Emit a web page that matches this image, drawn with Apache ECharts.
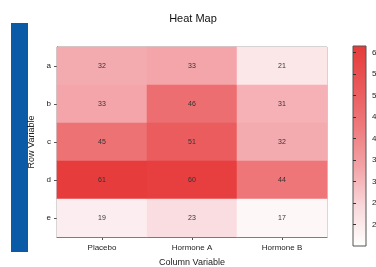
<!DOCTYPE html>
<html>
<head>
<meta charset="utf-8">
<script src="https://cdn.jsdelivr.net/npm/echarts@6/dist/echarts.min.js"></script>
<style>
html,body{margin:0;padding:0;background:#fff;}
#chart{width:376px;height:267px;}
</style>
</head>
<body>
<div id="chart"></div>
<script>
// ---- data ----
var columns = ['Placebo', 'Hormone A', 'Hormone B'];
var rows = ['a', 'b', 'c', 'd', 'e'];
var placebo  = [32, 33, 45, 61, 19];
var hormoneA = [33, 46, 51, 60, 23];
var hormoneB = [21, 31, 32, 44, 17];
var colorbarTicks = [20, 25, 30, 35, 40, 45, 50, 55, 60];
var colorMin = 15;
var colorMax = 61.5;

var seriesByColumn = [placebo, hormoneA, hormoneB];
var cells = [];
seriesByColumn.forEach(function (vals, ci) {
  vals.forEach(function (v, ri) { cells.push([ci, ri, v]); });
});

var rampColors = ['#ffffff', '#f9d8db', '#f3a2a6', '#ee797c', '#ea5859', '#e63a3a'];
// colour bar gradient: top = max colour, bottom = min colour
var gradStops = rampColors.map(function (c, i) {
  return {offset: 1 - i / (rampColors.length - 1), color: c};
}).reverse();

var chart = echarts.init(document.getElementById('chart'), null, {renderer: 'canvas'});
var font = 'Liberation Sans, Arial, sans-serif';
chart.setOption({
  animation: false,
  backgroundColor: '#ffffff',
  title: {
    text: 'Heat Map', left: 188, top: 8, textAlign: 'center',
    textStyle: {fontSize: 11, fontWeight: 'normal', color: '#111', fontFamily: font}
  },
  graphic: [{
    type: 'rect', shape: {x: 11, y: 23, width: 17, height: 229},
    style: {fill: '#0b5aa8'}, silent: true
  }],
  grid: [
    {left: 57, top: 47, width: 270, height: 190, show: true, borderColor: '#9a9a9a', borderWidth: 1,
     backgroundColor: 'transparent', containLabel: false, outerBoundsMode: 'none'},
    {left: 353, top: 46, width: 13, height: 200, show: true, borderColor: '#555', borderWidth: 1,
     backgroundColor: new echarts.graphic.LinearGradient(0, 0, 0, 1, gradStops),
     containLabel: false, outerBoundsMode: 'none'}
  ],
  xAxis: [
    {
      type: 'category', gridIndex: 0, data: columns,
      name: 'Column Variable', nameLocation: 'middle', nameGap: 21,
      nameTextStyle: {fontSize: 9, color: '#222', fontFamily: font},
      axisLine: {show: true, lineStyle: {color: '#555'}},
      axisTick: {show: true, alignWithLabel: true, length: 3, lineStyle: {color: '#555'}},
      axisLabel: {fontSize: 8, color: '#222', margin: 7, fontFamily: font},
      splitLine: {show: false}
    },
    {type: 'value', gridIndex: 1, show: false}
  ],
  yAxis: [
    {
      type: 'category', gridIndex: 0, data: rows, inverse: true,
      name: 'Row Variable', nameLocation: 'middle', nameGap: 12, nameRotate: 90,
      nameTextStyle: {fontSize: 9, color: '#222', fontFamily: font},
      axisLine: {show: true, lineStyle: {color: '#555'}},
      axisTick: {show: true, alignWithLabel: true, length: 3, lineStyle: {color: '#555'}},
      axisLabel: {fontSize: 8, color: '#222', margin: 6, fontFamily: font},
      splitLine: {show: false}
    },
    {
      type: 'value', gridIndex: 1, position: 'right', min: colorMin, max: colorMax,
      axisLine: {show: false},
      axisTick: {show: true, length: 3, inside: false, customValues: colorbarTicks, lineStyle: {color: '#333'}},
      axisLabel: {show: true, customValues: colorbarTicks, fontSize: 8, color: '#222', margin: 6, fontFamily: font},
      splitLine: {show: false}
    }
  ],
  visualMap: {
    type: 'continuous', min: colorMin, max: colorMax, show: false, seriesIndex: 0,
    inRange: {color: rampColors}
  },
  series: [{
    type: 'heatmap', xAxisIndex: 0, yAxisIndex: 0, data: cells,
    label: {show: true, fontSize: 7, color: '#333', fontFamily: font},
    itemStyle: {borderWidth: 0}
  }]
});
</script>
</body>
</html>
